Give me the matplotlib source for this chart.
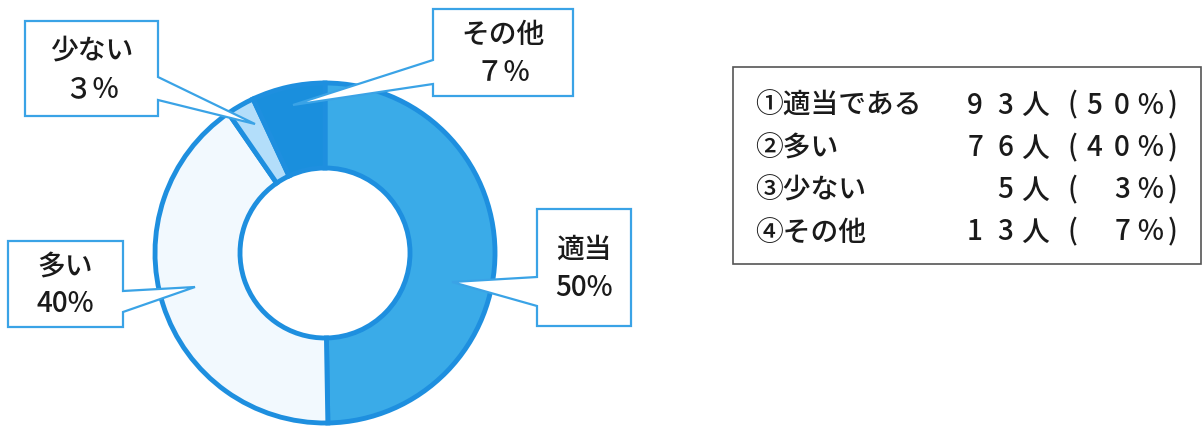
import matplotlib
matplotlib.use("Agg")
import matplotlib.pyplot as plt
from matplotlib.patches import Polygon, Rectangle

plt.rcParams["font.family"] = ["Noto Sans CJK JP", "DejaVu Sans"]

# ──── DATA ───────────────────────────────────────────────────────────────────

names = ["適当である", "多い", "少ない", "その他"]
markers = ["①", "②", "③", "④"]
counts = [93, 76, 5, 13]
percents = [50, 40, 3, 7]
callout_labels = ["適当\n50%", "多い\n40%", "少ない\n３％", "その他\n７％"]

# ──── STYLE ──────────────────────────────────────────────────────────────────

W, H = 1204, 427
edge_blue = "#1e8fdf"
box_blue = "#3aa3e6"
text_color = "#1a1a1a"
wedge_colors = ["#3aabe8", "#f2f9fe", "#b3defa", "#1a8fdd"]
fs = 20
fw = "medium"


def P(x, y):
    # pixel position (top-left origin) -> data coords
    return (x, H - y)


fig = plt.figure(figsize=(W / 100, H / 100), dpi=100)
ax = fig.add_axes([0, 0, 1, 1])

# ──── DONUT ──────────────────────────────────────────────────────────────────

ax.pie(
    counts,
    colors=wedge_colors,
    startangle=90,
    counterclock=False,
    center=P(325, 254),
    radius=170,
    wedgeprops=dict(width=85, edgecolor=edge_blue, linewidth=3.5),
)

# ──── CALLOUTS ───────────────────────────────────────────────────────────────

# (box left, top, right, bottom), tail (side, y1, y2, tip)
callouts = [
    ((537, 210, 631, 327), ("left", 278, 307, (452, 283))),
    ((8, 242, 123, 328), ("right", 292, 313, (195, 288))),
    ((25, 22, 158, 117), ("right", 78, 101, (255, 125))),
    ((433, 10, 573, 97), ("left", 61, 85, (293, 106))),
]

for label, (box, tail) in zip(callout_labels, callouts):
    l, t, r, b = box
    side, y1, y2, tip = tail
    if side == "right":
        pts = [(l, t), (r, t), (r, y1), tip, (r, y2), (r, b), (l, b)]
    else:
        pts = [(l, t), (r, t), (r, b), (l, b), (l, y2), tip, (l, y1)]
    ax.add_patch(Polygon([P(*p) for p in pts], closed=True, facecolor="white",
                         edgecolor=box_blue, linewidth=1.6, zorder=5))
    line1, line2 = label.split("\n")
    cx = (l + r) / 2
    cy = (t + b) / 2
    ax.text(*P(cx, cy - 19), line1, ha="center", va="center", fontsize=fs,
            fontweight=fw, color=text_color, zorder=6)
    ax.text(*P(cx, cy + 19), line2, ha="center", va="center", fontsize=fs,
            fontweight=fw, color=text_color, zorder=6)

# ──── LEGEND TABLE ───────────────────────────────────────────────────────────

ax.add_patch(Rectangle(P(733, 265), 1201 - 733, 265 - 68, facecolor="none",
                       edgecolor="#555555", linewidth=1.2))

row_y = [105, 148, 190, 232]
col_x = [975, 1005, 1035, 1072, 1094, 1122, 1150, 1173]
for i in range(len(names)):
    y = row_y[i]
    ax.text(*P(755, y), markers[i] + names[i], ha="left", va="center",
            fontsize=fs, fontweight=fw, color=text_color)
    c = f"{counts[i]:>2d}"
    p = f"{percents[i]:>2d}"
    chars = [c[0], c[1], "人", "(", p[0], p[1], "％", ")"]
    for ch, x in zip(chars, col_x):
        if ch.strip():
            ax.text(*P(x, y), ch, ha="center", va="center", fontsize=fs,
                    fontweight=fw, color=text_color)

ax.set_xlim(0, W)
ax.set_ylim(0, H)
ax.set_aspect("equal")
ax.axis("off")

fig.savefig("out.png", dpi=100, facecolor="white")
